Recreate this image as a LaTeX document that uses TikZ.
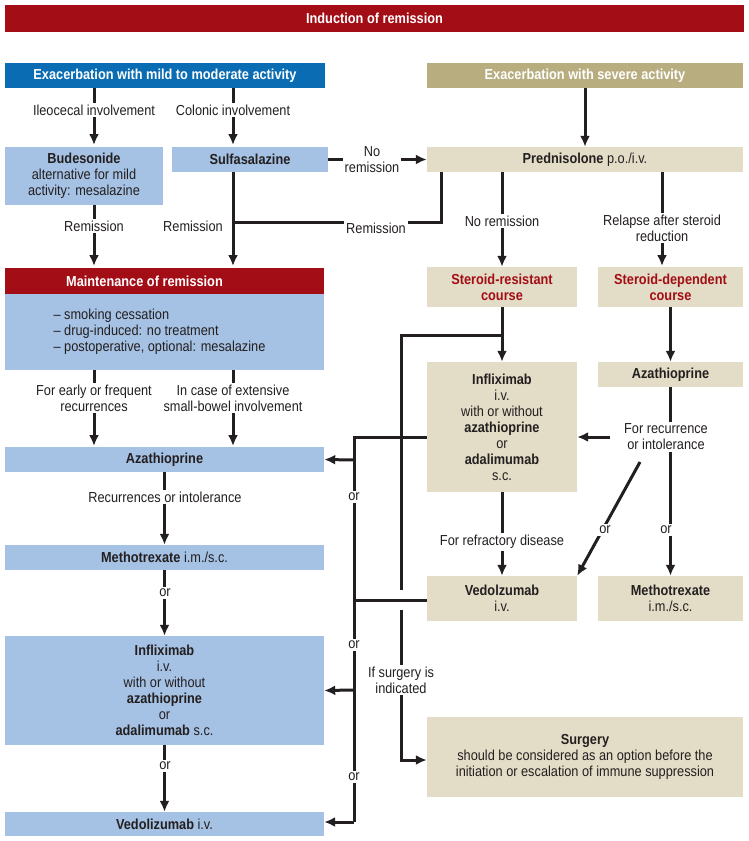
\documentclass[tikz,border=0pt]{standalone}
\usepackage{fontspec}
\setmainfont{Liberation Sans}[FakeStretch=0.88]
\usetikzlibrary{arrows.meta}
\definecolor{dred}{HTML}{A30D16}
\definecolor{dblue}{HTML}{0A6DB3}
\definecolor{khaki}{HTML}{B8AD7F}
\definecolor{lblue}{HTML}{A5C1E3}
\definecolor{beige}{HTML}{E3DCC6}
\definecolor{ink}{HTML}{231F20}
\tikzset{
 box/.style={inner sep=2pt, align=center, text=ink, font=\fontsize{14.5}{16}\selectfont},
 bb/.style={box, fill=lblue},
 be/.style={box, fill=beige},
 head/.style={box, text=white, font=\fontsize{14.5}{16}\selectfont\bfseries},
 lab/.style={fill=white, inner sep=2pt, align=center, text=ink, font=\fontsize{14.5}{16}\selectfont},
 con/.style={line width=3pt, draw=ink},
 arr/.style={con, -{Latex[length=11pt,width=10pt]}},
}
\begin{document}
\begin{tikzpicture}[x=1pt,y=-1pt]
\useasboundingbox (0,0) rectangle (749,841);
% headers
\node[head, fill=dred, minimum width=739pt, minimum height=27pt] (top) at (374.5,18.5) {Induction of remission};
\node[head, fill=dblue, minimum width=320pt, minimum height=25pt] (mild) at (165,75.5) {Exacerbation with mild to moderate activity};
\node[head, fill=khaki, minimum width=316pt, minimum height=25pt] (sev) at (585,75.5) {Exacerbation with severe activity};
% row 2
\node[bb, minimum width=158pt, minimum height=58pt] (bud) at (84,176) {\textbf{Budesonide}\\alternative for mild\\activity: mesalazine};
\node[bb, minimum width=156pt, minimum height=25pt] (sulf) at (250,159.5) {\textbf{Sulfasalazine}};
\node[be, minimum width=316pt, minimum height=25pt] (pred) at (585,159.5) {\textbf{Prednisolone} p.o./i.v.};
% maintenance
\node[head, fill=dred, minimum width=319pt, minimum height=26pt] (mh) at (164.5,281) {\hspace*{-40pt}Maintenance of remission};
\node[bb, minimum width=319pt, minimum height=76pt] (mb) at (164.5,332) {\hspace*{-10pt}\begin{tabular}{@{}l@{}}– smoking cessation\\– drug-induced: no treatment\\– postoperative, optional: mesalazine\end{tabular}};
\node[be, minimum width=150pt, minimum height=40pt, text=dred, font=\fontsize{14.5}{16}\selectfont\bfseries] (sr) at (502,287) {Steroid-resistant\\course};
\node[be, minimum width=145pt, minimum height=40pt, text=dred, font=\fontsize{14.5}{16}\selectfont\bfseries] (sd) at (670.5,287) {Steroid-dependent\\course};
% left column
\node[bb, minimum width=319pt, minimum height=25pt] (aza) at (164.5,459.5) {\textbf{Azathioprine}};
\node[bb, minimum width=319pt, minimum height=25pt] (mtx) at (164.5,557.5) {\textbf{Methotrexate} i.m./s.c.};
\node[bb, minimum width=319pt, minimum height=109pt] (ifx) at (164.5,690.5) {\textbf{Infliximab}\\i.v.\\with or without\\\textbf{azathioprine}\\or\\\textbf{adalimumab} s.c.};
\node[bb, minimum width=319pt, minimum height=24pt] (ved) at (164.5,824) {\textbf{Vedolizumab} i.v.};
% right columns
\node[be, minimum width=150pt, minimum height=130pt] (ifxr) at (502,427) {\textbf{Infliximab}\\i.v.\\with or without\\\textbf{azathioprine}\\or\\\textbf{adalimumab}\\s.c.};
\node[be, minimum width=145pt, minimum height=25pt] (azar) at (670.5,374.5) {\textbf{Azathioprine}};
\node[be, minimum width=150pt, minimum height=45pt] (vedr) at (502,598.5) {\textbf{Vedolzumab}\\i.v.};
\node[be, minimum width=145pt, minimum height=45pt] (mtxr) at (670.5,598.5) {\textbf{Methotrexate}\\i.m./s.c.};
\node[be, minimum width=316pt, minimum height=80pt] (surg) at (585,757) {\textbf{Surgery}\\should be considered as an option before the\\initiation or escalation of immune suppression};
% coordinates
\coordinate (j1) at (502,335);
\coordinate (b1) at (401,335);
\coordinate (b2) at (401,760);
\coordinate (p1) at (441,222);
\coordinate (p2) at (233,222);
\coordinate (l1) at (354,437);
\coordinate (l2) at (354,822);
\coordinate (az1) at (662,437);
\coordinate (az2) at (640,462);
% top arrows
\draw[arr] (94,88) -- (94,145);
\node[lab] at (94,110) {Ileocecal involvement};
\draw[arr] (233,88) -- (233,145);
\node[lab] at (233,110) {Colonic involvement};
\draw[arr] (sev.south) -- (pred.north);
\draw[arr] (sulf.east) -- (pred.west);
\node[lab] at (372,160) {No\\remission};
% remission arrows
\draw[arr] (94,205) -- (94,266);
\node[lab] at (94,226) {Remission};
\draw[arr] (233,172) -- (233,266);
\node[lab] at (193,226) {Remission};
\draw[con] (441,172) -- (p1) -- (p2);
\node[lab] at (376,228) {Remission};
\draw[arr] (502,172) -- (sr.north);
\node[lab] at (502,221) {No remission};
\draw[arr] (662,172) -- (662,266);
\node[lab] at (662,228) {Relapse after steroid\\reduction};
% maintenance outputs
\draw[arr] (94,370) -- (94,446);
\node[lab] at (94,398) {For early or frequent\\recurrences};
\draw[arr] (233,370) -- (233,446);
\node[lab] at (233,398) {In case of extensive\\small-bowel involvement};
\draw[arr] (aza.south) -- (mtx.north);
\node[lab] at (165,497) {Recurrences or intolerance};
\draw[arr] (mtx.south) -- (ifx.north);
\node[lab] at (165,593) {or};
\draw[arr] (ifx.south) -- (ved.north);
\node[lab] at (165,766) {or};
% steroid resistant
\draw[arr] (sr.south) -- (ifxr.north);
\draw[con] (j1) -- (b1) -- (401,590);
\draw[arr] (401,610) -- (b2) -- (surg.west |- b2);
\node[lab] at (401,680) {If surgery is\\indicated};
\draw[arr] (ifxr.south) -- (vedr.north);
\node[lab] at (502,542) {For refractory disease};
% left bus
\draw[con] (ifxr.west |- l1) -- (l1) -- (l2);
\draw[con] (vedr.west |- 0,600) -- (354,600);
\draw[arr] (354,460) -- (aza.east);
\draw[arr] (354,690) -- (ifx.east);
\draw[arr] (l2) -- (ved.east |- l2);
\node[lab] at (354,497) {or};
\node[lab] at (354,645) {or};
\node[lab] at (354,777) {or};
% steroid dependent
\draw[arr] (sd.south) -- (azar.north);
\draw[arr] (azar.south) -- (mtxr.north);
\draw[arr] (610,437) -- (ifxr.east |- az1);
\draw[arr] (az2) -- (vedr.north east);
\node[lab] at (666,437) {For recurrence\\or intolerance};
\node[lab] at (605,530) {or};
\node[lab] at (666,530) {or};
\end{tikzpicture}
\end{document}
